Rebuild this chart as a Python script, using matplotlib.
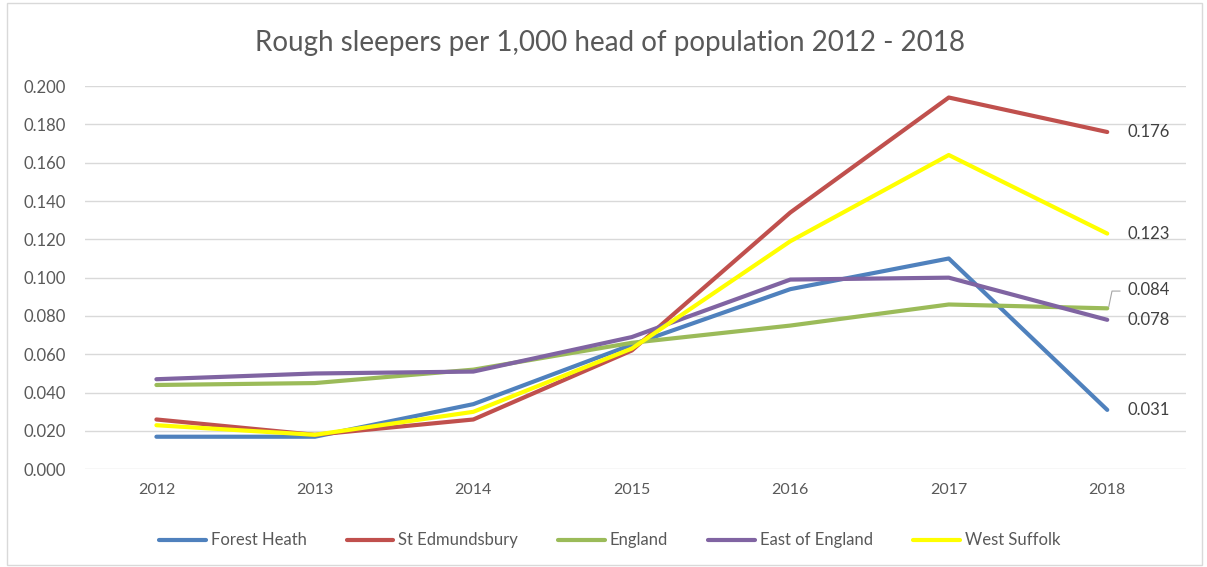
import matplotlib.pyplot as plt
import matplotlib.patches as patches

plt.rcParams['font.family'] = ['Lato', 'DejaVu Sans']

years = ['2012', '2013', '2014', '2015', '2016', '2017', '2018']
forest_heath = [0.017, 0.017, 0.034, 0.065, 0.094, 0.110, 0.031]
st_edmundsbury = [0.026, 0.018, 0.026, 0.062, 0.134, 0.194, 0.176]
england = [0.044, 0.045, 0.052, 0.066, 0.075, 0.086, 0.084]
east_of_england = [0.047, 0.050, 0.051, 0.069, 0.099, 0.100, 0.078]
west_suffolk = [0.023, 0.018, 0.030, 0.063, 0.119, 0.164, 0.123]

series = [
    ('Forest Heath', forest_heath, '#4F81BD'),
    ('St Edmundsbury', st_edmundsbury, '#C0504D'),
    ('England', england, '#9BBB59'),
    ('East of England', east_of_england, '#8064A2'),
    ('West Suffolk', west_suffolk, '#FFFF00'),
]

TXT = '#595959'

fig = plt.figure(figsize=(12.07, 5.67), dpi=100)
fig.patches.append(patches.Rectangle((0.006, 0.004), 0.99, 0.99, transform=fig.transFigure,
                                     fill=False, edgecolor='#D9D9D9', linewidth=1))
ax = fig.add_axes([0.0705, 0.1723, 0.9125, 0.676])

x = list(range(len(years)))
for name, vals, color in series:
    ax.plot(x, vals, color=color, linewidth=3, label=name, solid_capstyle='round')

ax.set_xlim(-0.45, 6.5)
ax.set_ylim(0, 0.2)
ax.set_yticks([i * 0.02 for i in range(11)])
ax.set_yticklabels([f'{i * 0.02:.3f}' for i in range(11)])
ax.set_xticks(x)
ax.set_xticklabels(years)
ax.grid(axis='y', color='#D9D9D9', linewidth=1)
ax.set_axisbelow(True)
for s in ax.spines.values():
    s.set_visible(False)
ax.tick_params(axis='x', length=0, labelsize=11.5, colors=TXT, pad=10)
ax.tick_params(axis='y', length=0, labelsize=12, colors=TXT, pad=14)

# data labels for 2018
for name, vals, color in series:
    v = vals[-1]
    if name == 'England':
        # leader line to the shifted label
        ax.plot([6.01, 6.03, 6.08], [v + 0.001, v + 0.009, v + 0.009], color='#A6A6A6', linewidth=0.8)
        ax.text(6.13, v + 0.0095, f'{v:.3f}', va='center', ha='left', fontsize=12, color='#404040')
    else:
        ax.text(6.13, v, f'{v:.3f}', va='center', ha='left', fontsize=12, color='#404040')

fig.text(0.505, 0.925, 'Rough sleepers per 1,000 head of population 2012 - 2018',
         ha='center', va='center', fontsize=20, color=TXT)

leg = fig.legend(loc='center', bbox_to_anchor=(0.505, 0.047), ncol=5, frameon=False,
                 fontsize=12, handlelength=2.8, columnspacing=2.4, handletextpad=0.3)
for t in leg.get_texts():
    t.set_color(TXT)

fig.savefig('out.png', dpi=100)
